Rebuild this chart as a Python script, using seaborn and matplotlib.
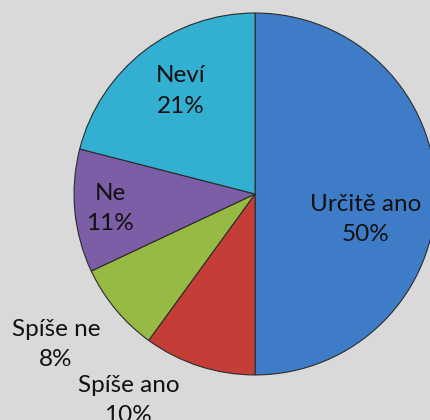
import matplotlib
matplotlib.use("Agg")
import matplotlib.pyplot as plt
import seaborn as sns

labels = ["Určitě ano", "Spíše ano", "Spíše ne", "Ne", "Neví"]
values = [50, 10, 8, 11, 21]
colors = ["#3e7cc8", "#c53d37", "#97ba45", "#7c5ea6", "#33afd2"]

sns.set_theme(style="white")
plt.rcParams["font.family"] = ["Lato", "DejaVu Sans"]

fig = plt.figure(figsize=(4.31, 4.20), dpi=100, facecolor="#d9d9d9")
ax = fig.add_axes([0, 0, 1, 1])
ax.set_facecolor("#d9d9d9")

ax.pie(values, colors=colors, startangle=90, counterclock=False,
       wedgeprops=dict(edgecolor="#2b2b2b", linewidth=0.8))

# label positions (pie radius = 1)
label_pos = [(0.61, -0.14), (-0.70, -1.14), (-1.10, -0.83), (-0.80, -0.08), (-0.41, 0.57)]
for lab, v, (x, y) in zip(labels, values, label_pos):
    ax.text(x, y, f"{lab}\n{v}%", ha="center", va="center", fontsize=17.5,
            linespacing=1.55, color="#111111")

ax.set_xlim(-1.409, 0.972)
ax.set_ylim(-1.249, 1.072)
ax.set_aspect("auto")
ax.axis("off")

fig.savefig("out.png", dpi=100, facecolor=fig.get_facecolor())
